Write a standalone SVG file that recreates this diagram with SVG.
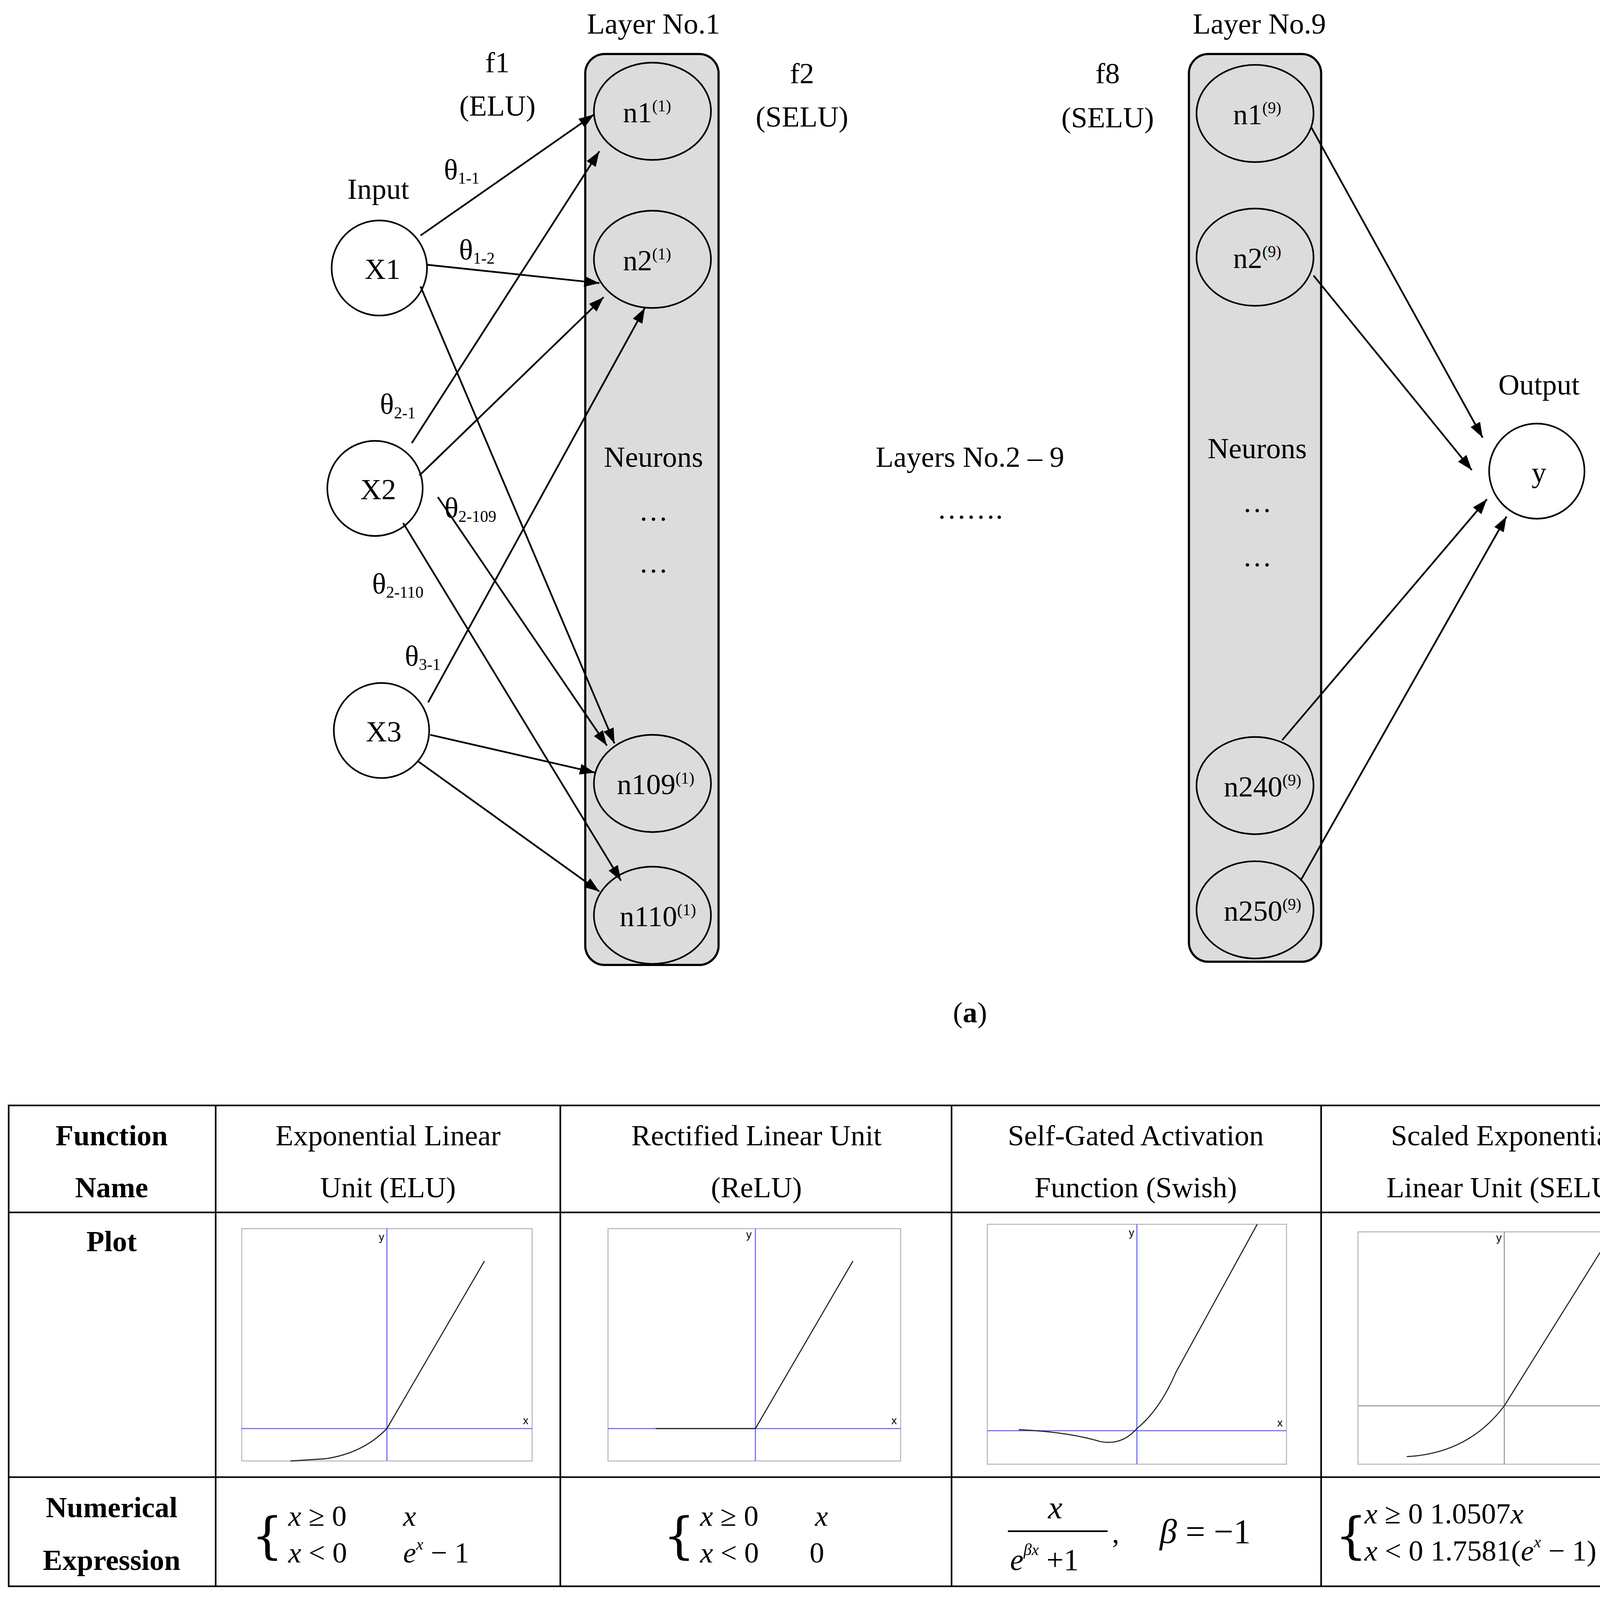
<svg xmlns="http://www.w3.org/2000/svg" width="4342" height="4274" viewBox="0 0 4342 4274">
<defs>
<marker id="a" viewBox="0 0 14 10" refX="14" refY="5" markerWidth="14" markerHeight="10" orient="auto" markerUnits="userSpaceOnUse"><path d="M0,0 L14,5 L0,10 z" fill="#000"/></marker>
<style>
text{font-family:"Liberation Serif","DejaVu Serif",serif;fill:#000;text-anchor:middle}
.t{font-size:27px}
.s{font-size:15px}
.h{font-size:27px}
.b{font-weight:bold}
.m{font-style:italic;font-size:27px;text-anchor:start}
.r{font-style:normal}
.box{fill:#dcdcdc;stroke:#000;stroke-width:2}
.n{fill:#dcdcdc;stroke:#000;stroke-width:1.5}
.c{fill:#fff;stroke:#000;stroke-width:1.5}
.e{stroke:#000;stroke-width:1.6;fill:none;marker-end:url(#a)}
.g{stroke:#000;stroke-width:1.5;fill:none}
.fr{fill:#fff;stroke:#bbb;stroke-width:1}
.ax{stroke:#6b6bff;stroke-width:1}
.ag{stroke:#999;stroke-width:1}
.cv{fill:none;stroke:#222;stroke-width:1}
.tiny{font-size:10px;font-family:"Liberation Sans",sans-serif}
.br{font-size:46px;font-family:"DejaVu Serif",serif;text-anchor:start}
</style>
</defs>
<rect width="4342" height="4274" fill="#fff"/>
<g transform="scale(2.7745,2.7663)">
<g id="layer1">
<rect class="box" x="540" y="50" width="123" height="843" rx="18"/>
<text class="h" x="603" y="31">Layer No.1</text>
<text class="t" x="603" y="432">Neurons</text>
<text class="t" x="603" y="482">…</text>
<text class="t" x="603" y="530">…</text>
</g>
<g id="l1n1"><ellipse class="n" cx="602" cy="103" rx="54" ry="45"/><text class="t" x="597" y="113">n1<tspan class="s" dy="-10">(1)</tspan></text></g>
<g id="l1n2"><ellipse class="n" cx="602" cy="240" rx="54" ry="45"/><text class="t" x="597" y="250">n2<tspan class="s" dy="-10">(1)</tspan></text></g>
<g id="l1n109"><ellipse class="n" cx="602" cy="725" rx="54" ry="45"/><text class="t" x="605" y="735">n109<tspan class="s" dy="-10">(1)</tspan></text></g>
<g id="l1n110"><ellipse class="n" cx="602" cy="847" rx="54" ry="45"/><text class="t" x="607" y="857">n110<tspan class="s" dy="-10">(1)</tspan></text></g>
<g id="layer9">
<rect class="box" x="1097" y="50" width="122" height="840" rx="18"/>
<text class="h" x="1162" y="31">Layer No.9</text>
<text class="t" x="1160" y="424">Neurons</text>
<text class="t" x="1160" y="474">…</text>
<text class="t" x="1160" y="524">…</text>
</g>
<g id="l9n1"><ellipse class="n" cx="1158" cy="105" rx="54" ry="45"/><text class="t" x="1160" y="115">n1<tspan class="s" dy="-10">(9)</tspan></text></g>
<g id="l9n2"><ellipse class="n" cx="1158" cy="238" rx="54" ry="45"/><text class="t" x="1160" y="248">n2<tspan class="s" dy="-10">(9)</tspan></text></g>
<g id="l9n240"><ellipse class="n" cx="1158" cy="727" rx="54" ry="45"/><text class="t" x="1165" y="737">n240<tspan class="s" dy="-10">(9)</tspan></text></g>
<g id="l9n250"><ellipse class="n" cx="1158" cy="842" rx="54" ry="45"/><text class="t" x="1165" y="852">n250<tspan class="s" dy="-10">(9)</tspan></text></g>
<g id="x1"><circle class="c" cx="350" cy="248" r="44"/><text class="t" x="353" y="258">X1</text></g>
<g id="x2"><circle class="c" cx="346" cy="452" r="44"/><text class="t" x="349" y="462">X2</text></g>
<g id="x3"><circle class="c" cx="352" cy="676" r="44"/><text class="t" x="354" y="686">X3</text></g>
<g id="y"><circle class="c" cx="1418" cy="436" r="44"/><text class="t" x="1420" y="446">y</text></g>
<g id="connectors">
<line class="e" x1="388" y1="218" x2="548" y2="106"/>
<line class="e" x1="394" y1="245" x2="553" y2="262"/>
<line class="e" x1="388" y1="265" x2="567" y2="688"/>
<line class="e" x1="380" y1="410" x2="553" y2="140"/>
<line class="e" x1="387" y1="440" x2="557" y2="275"/>
<line class="e" x1="404" y1="460" x2="560" y2="690"/>
<line class="e" x1="372" y1="484" x2="573" y2="815"/>
<line class="e" x1="395" y1="650" x2="595" y2="285"/>
<line class="e" x1="397" y1="680" x2="549" y2="715"/>
<line class="e" x1="385" y1="704" x2="553" y2="825"/>
<line class="e" x1="1210" y1="118" x2="1368" y2="405"/>
<line class="e" x1="1212" y1="255" x2="1358" y2="435"/>
<line class="e" x1="1183" y1="685" x2="1372" y2="462"/>
<line class="e" x1="1200" y1="815" x2="1390" y2="478"/>
</g>
<g id="labels">
<text class="t" x="459" y="67">f1</text>
<text class="t" x="459" y="107">(ELU)</text>
<text class="t" x="740" y="77">f2</text>
<text class="t" x="740" y="117">(SELU)</text>
<text class="t" x="1022" y="77">f8</text>
<text class="t" x="1022" y="118">(SELU)</text>
<text class="t" x="349" y="184">Input</text>
<text class="t" x="1420" y="365">Output</text>
<text class="t" x="895" y="432">Layers No.2 – 9</text>
<text class="t" x="895" y="480">…….</text>
<text class="t" x="426" y="166">θ<tspan class="s" dy="4">1-1</tspan></text>
<text class="t" x="440" y="240">θ<tspan class="s" dy="4">1-2</tspan></text>
<text class="t" x="367" y="383">θ<tspan class="s" dy="4">2-1</tspan></text>
<text class="t" x="434" y="479">θ<tspan class="s" dy="4">2-109</tspan></text>
<text class="t" x="367" y="549">θ<tspan class="s" dy="4">2-110</tspan></text>
<text class="t" x="390" y="616">θ<tspan class="s" dy="4">3-1</tspan></text>
<text class="t" x="895" y="946">(<tspan class="b">a</tspan>)</text>
<text class="t" x="880" y="1524">(<tspan class="b">b</tspan>)</text>
</g>
<g id="table">
<rect x="8" y="1023" width="1550" height="445" fill="none" stroke="#000" stroke-width="1.5"/>
<line class="g" x1="199" y1="1023" x2="199" y2="1468"/>
<line class="g" x1="517" y1="1023" x2="517" y2="1468"/>
<line class="g" x1="878" y1="1023" x2="878" y2="1468"/>
<line class="g" x1="1219" y1="1023" x2="1219" y2="1468"/>
<line class="g" x1="8" y1="1122" x2="1558" y2="1122"/>
<line class="g" x1="8" y1="1367" x2="1558" y2="1367"/>
<text class="t b" x="103" y="1060">Function</text>
<text class="t b" x="103" y="1108">Name</text>
<text class="t b" x="103" y="1158">Plot</text>
<text class="t b" x="103" y="1404">Numerical</text>
<text class="t b" x="103" y="1453">Expression</text>
<text class="t" x="358" y="1060">Exponential Linear</text>
<text class="t" x="358" y="1108">Unit (ELU)</text>
<text class="t" x="698" y="1060">Rectified Linear Unit</text>
<text class="t" x="698" y="1108">(ReLU)</text>
<text class="t" x="1048" y="1060">Self-Gated Activation</text>
<text class="t" x="1048" y="1108">Function (Swish)</text>
<text class="t" x="1388" y="1060">Scaled Exponential</text>
<text class="t" x="1388" y="1108">Linear Unit (SELU)</text>
</g>
<g id="plots">
<rect class="fr" x="223" y="1137" width="268" height="215"/>
<line class="ax" x1="357" y1="1137" x2="357" y2="1352"/><line class="ax" x1="223" y1="1322" x2="491" y2="1322"/>
<path class="cv" d="M268,1352 L300,1350 Q335,1345 357,1322 L447,1167"/>
<text class="tiny" x="352" y="1148">y</text><text class="tiny" x="485" y="1318">x</text>
<rect class="fr" x="561" y="1137" width="270" height="215"/>
<line class="ax" x1="697" y1="1137" x2="697" y2="1352"/><line class="ax" x1="561" y1="1322" x2="831" y2="1322"/>
<path class="cv" d="M605,1322 L697,1322 L787,1167"/>
<text class="tiny" x="691" y="1146">y</text><text class="tiny" x="825" y="1318">x</text>
<rect class="fr" x="911" y="1133" width="276" height="222"/>
<line class="ax" x1="1049" y1="1133" x2="1049" y2="1355"/><line class="ax" x1="911" y1="1324" x2="1187" y2="1324"/>
<path class="cv" d="M940,1323 Q985,1325 1015,1334 Q1035,1338 1049,1322 Q1070,1305 1085,1270 L1160,1133"/>
<text class="tiny" x="1044" y="1144">y</text><text class="tiny" x="1181" y="1320">x</text>
<rect class="fr" x="1253" y="1140" width="269" height="215"/>
<line class="ag" x1="1388" y1="1140" x2="1388" y2="1355"/><line class="ag" x1="1253" y1="1301" x2="1522" y2="1301"/>
<path class="cv" d="M1298,1348 Q1355,1345 1388,1301 L1477,1158"/>
<text class="tiny" x="1383" y="1149">y</text><text class="tiny" x="1516" y="1297">x</text>
</g>
<g id="expr">
<text class="br" x="232" y="1437">{</text>
<text class="m" x="266" y="1412">x <tspan class="r">≥ 0</tspan></text>
<text class="m" x="372" y="1412">x</text>
<text class="m" x="266" y="1446">x <tspan class="r">&lt; 0</tspan></text>
<text class="m" x="372" y="1446">e<tspan class="s" dy="-12">x</tspan><tspan class="r" dy="12"> − 1</tspan></text>
<text class="br" x="612" y="1437">{</text>
<text class="m" x="646" y="1412">x <tspan class="r">≥ 0</tspan></text>
<text class="m" x="752" y="1412">x</text>
<text class="m" x="646" y="1446">x <tspan class="r">&lt; 0</tspan></text>
<text class="m" x="747" y="1446"><tspan class="r">0</tspan></text>
<text class="m" x="967" y="1405" style="font-size:30px">x</text>
<line class="g" x1="930" y1="1417" x2="1022" y2="1417"/>
<text class="m" x="932" y="1453" style="font-size:28px">e<tspan class="s" dy="-14">βx</tspan><tspan class="r" dy="14"> +1</tspan></text>
<text class="m" x="1026" y="1428" style="font-style:normal">,</text>
<text class="m" x="1070" y="1428" style="font-size:32px">β<tspan class="r"> = −1</tspan></text>
<text class="br" x="1232" y="1437">{</text>
<text class="m" x="1259" y="1410">x <tspan class="r">≥ 0 1.0507</tspan>x</text>
<text class="m" x="1259" y="1444">x <tspan class="r">&lt; 0 1.7581(</tspan>e<tspan class="s" dy="-12">x</tspan><tspan class="r" dy="12"> − 1)</tspan></text>
</g>
</g>
</svg>
